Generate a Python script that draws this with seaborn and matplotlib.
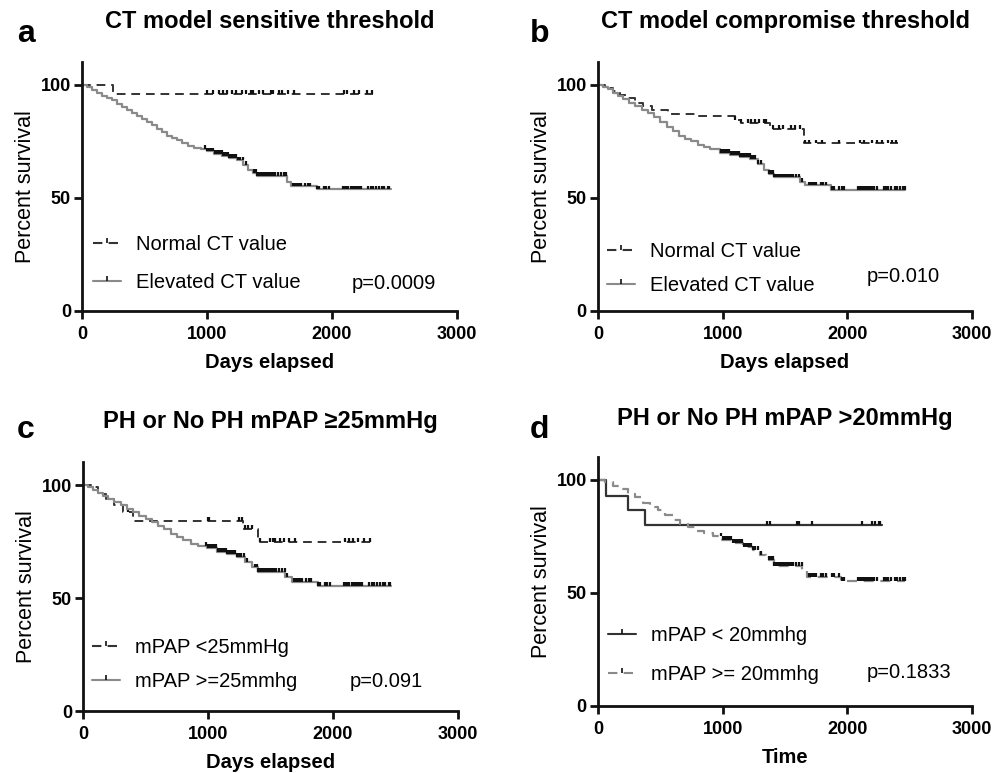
import numpy as np
import matplotlib
matplotlib.use("Agg")
import matplotlib.pyplot as plt
from matplotlib.lines import Line2D
import seaborn as sns

# values: days, percent survival
# panel a
a_norm_t = [0, 250]
a_norm_s = [100, 96]
a_norm_end = 2330
a_norm_cens = [1000, 1050, 1100, 1130, 1160, 1200, 1230, 1280, 1310, 1350, 1370, 1420,
               1450, 1510, 1530, 1580, 1600, 1650, 1700, 2100, 2120, 2180, 2220, 2280, 2320]
a_elev_t = [0, 40, 80, 120, 160, 200, 240, 280, 320, 360, 400, 440, 480, 520, 560, 600,
            640, 680, 720, 760, 800, 850, 900, 950, 1000, 1060, 1120, 1180, 1240, 1290,
            1330, 1370, 1400, 1640, 1670, 1880]
a_elev_s = [100, 99, 97.5, 96.5, 95, 94, 93, 91.5, 90, 89, 87.5, 86, 85, 83.5, 82, 80.5,
            79, 77.5, 76.5, 75.5, 74, 73, 72, 71.5, 70.5, 69.5, 68.5, 67.5, 66.5, 64.5,
            62.5, 61, 59.5, 57, 55, 53.7]
a_elev_end = 2470

# panel b
b_norm_t = [0, 60, 120, 180, 240, 300, 360, 430, 560, 800, 1100, 1150, 1380, 1650]
b_norm_s = [100, 98.5, 97, 95.5, 94, 92, 90.5, 89, 87, 86, 84.5, 83, 80.5, 74]
b_norm_end = 2410
b_norm_cens = [1100, 1150, 1200, 1230, 1260, 1290, 1330, 1350, 1400, 1450, 1480, 1550,
               1580, 1620, 1660, 1690, 1750, 1800, 1930, 2100, 2130, 2200, 2240, 2280,
               2330, 2360, 2390]
b_elev_t = [0, 40, 80, 120, 160, 200, 250, 300, 350, 400, 450, 500, 550, 600, 650, 700,
            750, 800, 850, 900, 980, 1060, 1140, 1220, 1280, 1330, 1370, 1410, 1620,
            1660, 1870]
b_elev_s = [100, 99, 98, 96.5, 95, 93.5, 92, 90.5, 89, 87.5, 85.5, 83.5, 81.5, 79.5,
            77.5, 76, 75, 73.5, 72.5, 71.5, 70, 69, 68, 67, 65, 62.5, 60.5, 59, 57,
            55.5, 53.5]
b_elev_end = 2465

# panel c
c_norm_t = [0, 60, 120, 180, 250, 320, 400, 1280, 1400]
c_norm_s = [100, 99, 96, 94, 91, 88, 84, 80.5, 75]
c_norm_end = 2330
c_norm_cens = [360, 1000, 1010, 1250, 1270, 1300, 1320, 1350, 1420, 1500, 1520, 1540,
               1580, 1610, 1650, 1700, 2100, 2130, 2160, 2200, 2250, 2300]
c_elev_t = [0, 40, 80, 120, 160, 200, 250, 300, 350, 400, 450, 500, 550, 600, 650, 700,
            750, 800, 860, 920, 990, 1070, 1150, 1230, 1300, 1350, 1400, 1620, 1670, 1880]
c_elev_s = [100, 99, 98, 96.5, 95, 94, 92.5, 91, 89.5, 88, 86.5, 85, 83.5, 82, 80.5,
            78.5, 77, 75.5, 74, 73, 72, 70.5, 69.5, 68, 66, 63.5, 61.5, 59.5, 57, 55.5]
c_elev_end = 2465

# panel d
d_low_t = [0, 67, 241, 380]
d_low_s = [100, 93, 86.5, 80]
d_low_end = 2280
d_low_cens = [1356, 1383, 1596, 1610, 1717, 2118, 2198, 2225, 2251, 2265]
d_high_t = [0, 60, 120, 180, 240, 300, 360, 420, 480, 540, 600, 660, 720, 780, 850,
            920, 990, 1080, 1160, 1240, 1300, 1350, 1410, 1640, 1680, 1950]
d_high_s = [100, 99, 97.5, 96, 94, 92.5, 90, 88, 86.5, 84.5, 82.5, 80.5, 79, 77.5,
            76.5, 75, 73.5, 72, 70.5, 69, 67, 64.5, 62, 60, 57.2, 55.5]
d_high_end = 2465

# censor ticks of the high risk curves (dense from ~1000 days)
elev_cens = [985, 1000, 1012, 1025, 1038, 1050, 1065, 1080, 1092, 1105, 1118, 1130, 1142,
             1155, 1168, 1180, 1192, 1205, 1218, 1230, 1245, 1262, 1285, 1310, 1375, 1390,
             1402, 1415, 1428, 1440, 1455, 1470, 1485, 1500, 1515, 1530, 1548, 1565, 1590,
             1615, 1635, 1690, 1705, 1720, 1735, 1750, 1785, 1805, 1825, 1880, 1895, 1935,
             1955, 1975, 2085, 2100, 2115, 2130, 2150, 2165, 2185, 2200, 2215, 2235, 2290,
             2310, 2330, 2350, 2380, 2400, 2420, 2445, 2460]

titles = ["CT model sensitive threshold", "CT model compromise threshold",
          "PH or No PH mPAP \u226525mmHg", "PH or No PH mPAP >20mmHg"]
letters = ["a", "b", "c", "d"]
xlabels = ["Days elapsed", "Days elapsed", "Days elapsed", "Time"]
leg_labels = [["Normal CT value", "Elevated CT value"],
              ["Normal CT value", "Elevated CT value"],
              ["mPAP <25mmHg", "mPAP >=25mmhg"],
              ["mPAP < 20mmhg", "mPAP >= 20mmhg"]]
pvals = ["p=0.0009", "p=0.010", "p=0.091", "p=0.1833"]

sns.set_style("ticks")
plt.rcParams["font.family"] = ["Liberation Sans", "DejaVu Sans"]
plt.rcParams["text.color"] = "black"
plt.rcParams["axes.labelcolor"] = "black"
plt.rcParams["xtick.color"] = "black"
plt.rcParams["ytick.color"] = "black"

GRAY = "#8a8a8a"
BLACK = "#111111"
DARK = "#333333"
DASH = (0, (4.5, 3))
TICK = [(0, 0), (0, 1)]


def km(ax, t, s, end, cens, color, ls, lw):
    t = np.asarray(t + [end], float)
    s = np.asarray(s + [s[-1]], float)
    sns.lineplot(x=t, y=s, ax=ax, color=color, linestyle=ls, lw=lw,
                 drawstyle="steps-post", estimator=None, sort=False)
    c = np.asarray(cens, float)
    yc = s[np.searchsorted(t, c, side="right") - 1]
    ax.vlines(c, yc, yc + 1.7, color=BLACK, lw=1.6)


fig = plt.figure(figsize=(10.05, 7.73), dpi=100)
pos = [[0.0816, 0.5977, 0.3731, 0.3221],
       [0.5950, 0.5977, 0.3722, 0.3221],
       [0.0826, 0.0802, 0.3731, 0.3216],
       [0.5950, 0.0867, 0.3722, 0.3216]]
axes = [fig.add_axes(p) for p in pos]

km(axes[0], a_norm_t, a_norm_s, a_norm_end, a_norm_cens, DARK, DASH, 1.4)
km(axes[0], a_elev_t, a_elev_s, a_elev_end, elev_cens, GRAY, "-", 1.6)
km(axes[1], b_norm_t, b_norm_s, b_norm_end, b_norm_cens, DARK, DASH, 1.4)
km(axes[1], b_elev_t, b_elev_s, b_elev_end, elev_cens, GRAY, "-", 1.6)
km(axes[2], c_norm_t, c_norm_s, c_norm_end, c_norm_cens, DARK, DASH, 1.4)
km(axes[2], c_elev_t, c_elev_s, c_elev_end, elev_cens, GRAY, "-", 1.6)
km(axes[3], d_low_t, d_low_s, d_low_end, d_low_cens, DARK, "-", 1.6)
km(axes[3], d_high_t, d_high_s, d_high_end, elev_cens, GRAY, DASH, 1.6)

styles = [[(DARK, DASH), (GRAY, "-")]] * 3 + [[(DARK, "-"), (GRAY, DASH)]]
leg_pos = [(0.029, 0.191, 0.95), (0.024, 0.171, 0.75), (0.024, 0.187, 0.75), (0.027, 0.205, 0.95)]
p_pos = [(0.72, 0.112), (0.719, 0.137), (0.712, 0.117), (0.719, 0.133)]
title_y = [1 - 28 / 773, 1 - 28 / 773, 1 - 428 / 773, 1 - 425 / 773]
letter_xy = [(0.017, 1 - 42 / 773), (0.527, 1 - 42 / 773),
             (0.017, 1 - 438 / 773), (0.527, 1 - 438 / 773)]

for i, ax in enumerate(axes):
    ax.set_xlim(0, 3000)
    ax.set_ylim(0, 110)
    ax.set_xticks([0, 1000, 2000, 3000])
    ax.set_yticks([0, 50, 100])
    sns.despine(ax=ax)
    for sp in ("left", "bottom"):
        ax.spines[sp].set_linewidth(2)
        ax.spines[sp].set_color(BLACK)
    ax.tick_params(length=6, width=2, color=BLACK, labelcolor="black", labelsize=13)
    ax.tick_params(axis="x", pad=5)
    ax.tick_params(axis="y", pad=2)
    for lab in ax.get_xticklabels() + ax.get_yticklabels():
        lab.set_fontweight("bold")
    ax.set_xlabel(xlabels[i], fontsize=14.5, fontweight="bold", labelpad=7)
    ax.set_ylabel("Percent survival", fontsize=15.5, labelpad=3)

    handles = [Line2D([], [], color=c, linestyle=ls, lw=1.5, marker=TICK,
                      markersize=7, markeredgewidth=1.2, markeredgecolor=BLACK)
               for c, ls in styles[i]]
    lx, ly, sp_ = leg_pos[i]
    ax.legend(handles, leg_labels[i], loc="center left", bbox_to_anchor=(lx, ly),
              frameon=False, fontsize=14.5, numpoints=1, handlelength=1.4,
              handletextpad=0.75, labelspacing=sp_, borderpad=0, borderaxespad=0)
    ax.text(p_pos[i][0], p_pos[i][1], pvals[i], transform=ax.transAxes,
            fontsize=14.5, va="center", ha="left")

    x0, _, w, _ = pos[i]
    fig.text(x0 + w / 2, title_y[i], titles[i], fontsize=17, fontweight="bold",
             ha="center", va="baseline")
    fig.text(letter_xy[i][0], letter_xy[i][1], letters[i], fontsize=23,
             fontweight="bold", ha="left", va="baseline")

fig.savefig("out.png", dpi=100, facecolor="white")
